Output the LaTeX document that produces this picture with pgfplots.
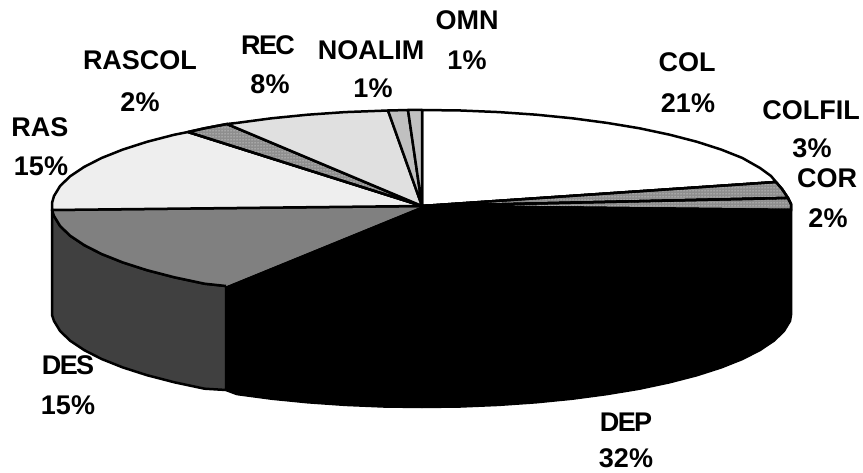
\documentclass[border=0pt]{standalone}
\usepackage{pgfplots}
\pgfplotsset{compat=1.18}
\usepackage{fontspec}
\setmainfont{Liberation Sans}
\usetikzlibrary{patterns}

% Fill of each food-group slice
\definecolor{colfil}{HTML}{8E8E8E}
\definecolor{ras}{HTML}{EEEEEE}
\definecolor{rec}{HTML}{E0E0E0}
\definecolor{noalim}{HTML}{C0C0C0}
\definecolor{desTop}{HTML}{808080}
\definecolor{desSide}{HTML}{404040}
\tikzset{
  lab/.style={font=\fontsize{27}{27}\selectfont\bfseries,inner sep=0pt,anchor=center},
  tight/.style={font=\fontsize{27}{27}\selectfont\bfseries\addfontfeatures{LetterSpace=-6}},
  dotted fill/.style={preaction={fill=colfil}, pattern=dots, pattern color=white},
}

\begin{document}
\begin{tikzpicture}
\begin{axis}[
  width=863pt, height=473pt, scale only axis,
  xmin=0, xmax=863, ymin=0, ymax=473, y dir=reverse,
  hide axis, clip=false,
  every axis plot/.append style={no markers, line width=2.5pt, line join=round, draw=black},
]
% Invisible frame that fixes the extent of the page
\draw[white, line width=0pt] (axis cs:0,0) rectangle (axis cs:863,473);

% Rim of the disc: side walls
\addplot[fill=black, draw=black] coordinates {
 (791,210) (790,216) (783.9,226) (773.9,235.7) (760,245) (742.4,254) (721.3,262.4) (697,270.2)
 (669.6,277.3) (639.5,283.7) (607,289.1) (572.5,293.7) (536.3,297.3) (498.9,299.9) (460.7,301.5)
 (422,302) (383.3,301.5) (345.1,299.9) (307.7,297.3) (271.5,293.7) (237,289.1) (226,286)
 (226,390) (237,394.1) (271.5,398.7) (307.7,402.3) (345.1,404.9) (383.3,406.5) (422,407)
 (460.7,406.5) (498.9,404.9) (536.3,402.3) (572.5,398.7) (607,394.1) (639.5,388.7) (669.6,382.3)
 (697,375.2) (721.3,367.4) (742.4,359) (760,350) (773.9,340.7) (783.9,331) (790,321) (791,315) (791,210)};
\addplot[fill=desSide] coordinates {
 (52,210) (54,216) (60.1,226) (70.1,235.7) (84,245) (101.6,254) (122.7,262.4) (147,270.2) (174.4,277.3)
 (204.5,283.7) (226,286) (226,390) (204.5,388.7) (174.4,382.3) (147,375.2) (122.7,367.4) (101.6,359)
 (84,350) (70.1,340.7) (60.1,331) (54,321) (52,315) (52,210)};

% Top face, one wedge per category
\addplot[fill=white] coordinates {
 (422,206) (422,110) (460.7,110.5) (498.9,112.1) (536.3,114.7) (572.5,118.3) (607,122.9) (639.5,128.3)
 (669.6,134.7) (697,141.8) (721.3,149.6) (742.4,158) (760,168) (771,176) (776,182) (422,206)};
\addplot[dotted fill] coordinates {(422,206) (776,182) (782,189) (788,198) (422,206)};
\addplot[dotted fill] coordinates {(422,206) (788,198) (791,204) (791,210) (422,206)};
\addplot[fill=black] coordinates {
 (422,206) (791,210) (790,216) (783.9,226) (773.9,235.7) (760,245) (742.4,254) (721.3,262.4) (697,270.2)
 (669.6,277.3) (639.5,283.7) (607,289.1) (572.5,293.7) (536.3,297.3) (498.9,299.9) (460.7,301.5)
 (422,302) (383.3,301.5) (345.1,299.9) (307.7,297.3) (271.5,293.7) (237,289.1) (226,286) (422,206)};
\addplot[fill=desTop, draw=none] coordinates {(422,206) (226,286) (52,210) (422,206)};
\addplot[fill=desTop] coordinates {
 (226,286) (204.5,283.7) (174.4,277.3) (147,270.2) (122.7,262.4) (101.6,254) (84,245)
 (70.1,235.7) (60.1,226) (54,216) (52,210) (422,206)};
\addplot[fill=ras] coordinates {
 (422,206) (52,210) (52,203) (54,196) (60.1,186) (70.1,176.3) (84,167) (101.6,158) (122.7,149.6)
 (147,141.8) (174.4,134.7) (188,132) (422,206)};
\addplot[dotted fill] coordinates {(422,206) (188,132) (204.5,128.3) (227,124) (422,206)};
\addplot[fill=rec] coordinates {
 (422,206) (227,124) (237,122.9) (271.5,118.3) (307.7,114.7) (345.1,112.1) (388,110.5) (422,206)};
\addplot[fill=noalim] coordinates {(422,206) (388,110.5) (408,110) (422,206)};
\addplot[fill=noalim] coordinates {(422,206) (408,110) (422,110) (422,206)};

% Category names and shares
\node[lab] at (axis cs:467,20) {OMN};    \node[lab] at (axis cs:467,60) {1\%};
\node[lab] at (axis cs:371,50) {NOALIM}; \node[lab] at (axis cs:373,88) {1\%};
\node[lab,tight] at (axis cs:268,45) {REC};    \node[lab] at (axis cs:270,84) {8\%};
\node[lab] at (axis cs:140,60) {RASCOL}; \node[lab] at (axis cs:140,102) {2\%};
\node[lab] at (axis cs:40,127) {RAS};    \node[lab] at (axis cs:41,166) {15\%};
\node[lab] at (axis cs:687,62) {COL};    \node[lab] at (axis cs:688,103) {21\%};
\node[lab] at (axis cs:811,110) {COLFIL};\node[lab] at (axis cs:812,148) {3\%};
\node[lab] at (axis cs:827,178) {COR};   \node[lab] at (axis cs:828,218) {2\%};
\node[lab,tight] at (axis cs:68,365) {DES};    \node[lab] at (axis cs:68,405) {15\%};
\node[lab,tight] at (axis cs:626,422) {DEP};   \node[lab] at (axis cs:626,458) {32\%};
\end{axis}
\end{tikzpicture}
\end{document}
